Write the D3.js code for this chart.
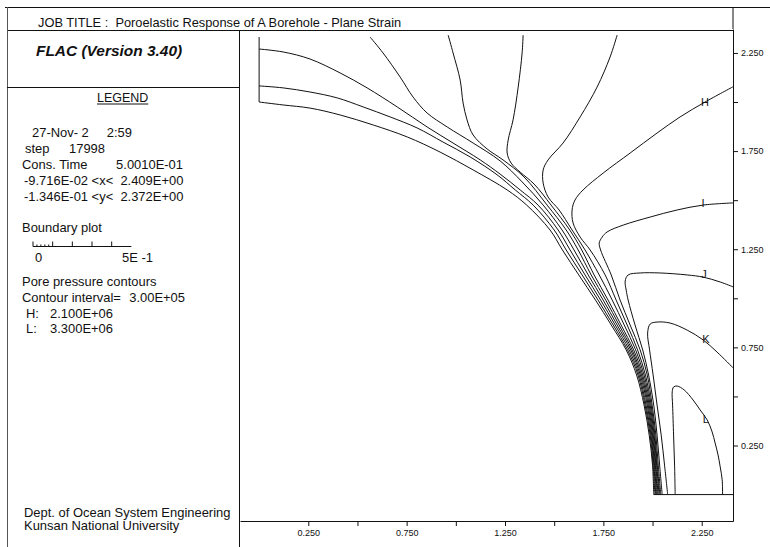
<!DOCTYPE html>
<html>
<head>
<meta charset="utf-8">
<script src="https://cdn.jsdelivr.net/npm/d3@7"></script>
<style>
  html, body { margin: 0; padding: 0; background: #fff; }
  svg { display: block; }
  text { font-family: "Liberation Sans", Arial, Helvetica, sans-serif; fill: #111; white-space: pre; }
</style>
</head>
<body>
<svg id="chart" width="770" height="547"></svg>
<script>
// ---------------- plot window and axis ticks ----------------
const xWindow = [-0.09716, 2.409];
const yWindow = [-0.1346, 2.372];
const xTickValues = [0.25, 0.5, 0.75, 1.0, 1.25, 1.5, 1.75, 2.0, 2.25];
const xTickLabels = ["0.250", "", "0.750", "", "1.250", "", "1.750", "", "2.250"];
const yTickValues = [0.25, 0.5, 0.75, 1.0, 1.25, 1.5, 1.75, 2.0, 2.25];
const yTickLabels = ["0.250", "", "0.750", "", "1.250", "", "1.750", "", "2.250"];

// ---------------- header / legend text ----------------
const jobTitle = "JOB TITLE :  Poroelastic Response of A Borehole - Plane Strain";
const codeName = "FLAC (Version 3.40)";
const legendHeading = "LEGEND";
const runInfo = [["27-Nov- 2", "2:59"], ["step", "17998"], ["Cons. Time", "5.0010E-01"]];
const windowInfo = ["-9.716E-02 <x<  2.409E+00", "-1.346E-01 <y<  2.372E+00"];
const boundaryTitle = "Boundary plot";
const scaleBarLength = 0.5;
const scaleBarMajor = [0, 0.1, 0.2, 0.3, 0.4];
const scaleBarMinor = [0.02, 0.04, 0.06, 0.08];
const scaleBarLabels = ["0", "5E -1"];
const contourTitle = "Pore pressure contours";
const contourInterval = ["Contour interval=", "3.00E+05"];
const contourRange = [["H:", "2.100E+06"], ["L:", "3.300E+06"]];
const affiliation = ["Dept. of Ocean System Engineering", "Kunsan National University"];

// ---------------- model boundary (x, y in metres) ----------------
const holeBoundary = [[0,2.0],[0.122,1.985],[0.259,1.969],[0.412,1.934],[0.580,1.883],[0.753,1.822],[0.920,1.745],[1.088,1.654],[1.261,1.552],[1.360,1.475],[1.479,1.348],[1.542,1.246],[1.625,1.119],[1.710,0.991],[1.790,0.864],[1.866,0.737],[1.919,0.609],[1.957,0.456],[1.983,0.303],[2.000,0.150],[2.006,0]];
const leftEdge = [[0,2.0],[0,2.331]];
const bottomEdge = [[2.006,0],[2.409,0]];

// ---------------- pore pressure contours ----------------
const contourB = [[0,2.082],[0.122,2.072],[0.259,2.051],[0.397,2.021],[0.529,1.975],[0.666,1.924],[0.803,1.868],[0.935,1.796],[1.073,1.720],[1.210,1.629],[1.302,1.552],[1.393,1.475],[1.500,1.348],[1.561,1.246],[1.642,1.119],[1.723,0.991],[1.800,0.864],[1.873,0.737],[1.926,0.609],[1.962,0.456],[1.988,0.303],[2.003,0.150],[2.012,0]];
const contourC = [[0,2.270],[0.122,2.255],[0.259,2.219],[0.412,2.148],[0.549,2.072],[0.702,1.975],[0.854,1.873],[0.986,1.791],[1.124,1.705],[1.225,1.633],[1.327,1.552],[1.418,1.475],[1.520,1.348],[1.581,1.246],[1.657,1.119],[1.736,0.991],[1.810,0.864],[1.881,0.737],[1.932,0.609],[1.967,0.456],[1.992,0.303],[2.007,0.150],[2.016,0]];
const contourD = [[0.564,2.331],[0.630,2.250],[0.717,2.127],[0.783,2.025],[0.854,1.944],[0.956,1.873],[1.088,1.791],[1.225,1.700],[1.337,1.593],[1.444,1.475],[1.540,1.348],[1.601,1.246],[1.673,1.119],[1.749,0.991],[1.820,0.864],[1.889,0.737],[1.938,0.609],[1.973,0.456],[1.996,0.303],[2.010,0.150],[2.020,0]];
const contourE = [[0.961,2.341],[0.986,2.250],[1.022,2.112],[1.037,1.995],[1.057,1.909],[1.088,1.832],[1.159,1.761],[1.240,1.705],[1.347,1.618],[1.464,1.475],[1.561,1.348],[1.622,1.246],[1.688,1.119],[1.762,0.991],[1.830,0.864],[1.896,0.737],[1.944,0.609],[1.978,0.456],[2.000,0.303],[2.014,0.150],[2.024,0]];
const contourF = [[1.342,2.341],[1.337,2.250],[1.317,2.076],[1.291,1.909],[1.266,1.806],[1.261,1.740],[1.281,1.689],[1.327,1.643],[1.398,1.582],[1.484,1.475],[1.579,1.348],[1.640,1.246],[1.703,1.119],[1.774,0.991],[1.840,0.864],[1.904,0.737],[1.950,0.609],[1.983,0.456],[2.004,0.303],[2.017,0.150],[2.028,0]];
const contourG = [[1.820,2.341],[1.784,2.229],[1.718,2.076],[1.632,1.924],[1.545,1.791],[1.469,1.705],[1.444,1.654],[1.444,1.587],[1.469,1.516],[1.525,1.450],[1.591,1.348],[1.657,1.246],[1.729,1.119],[1.795,0.991],[1.856,0.864],[1.914,0.737],[1.957,0.609],[1.988,0.456],[2.008,0.303],[2.021,0.150],[2.033,0]];
const contourH = [[2.410,2.078],[2.267,2.000],[2.140,1.924],[2.023,1.842],[1.886,1.740],[1.749,1.638],[1.647,1.552],[1.606,1.501],[1.591,1.450],[1.596,1.384],[1.632,1.312],[1.683,1.246],[1.759,1.119],[1.815,0.991],[1.871,0.864],[1.924,0.737],[1.964,0.609],[1.993,0.456],[2.012,0.303],[2.024,0.150],[2.037,0]];
const contourI = [[2.410,1.486],[2.257,1.475],[2.125,1.450],[1.988,1.414],[1.851,1.373],[1.769,1.338],[1.744,1.312],[1.729,1.282],[1.736,1.246],[1.790,1.119],[1.835,0.991],[1.886,0.864],[1.937,0.737],[1.973,0.609],[1.998,0.456],[2.017,0.303],[2.029,0.150],[2.042,0]];
const contourJ = [[2.410,1.058],[2.344,1.083],[2.257,1.108],[2.176,1.119],[2.039,1.129],[1.937,1.129],[1.876,1.119],[1.861,1.088],[1.866,1.042],[1.876,0.991],[1.911,0.864],[1.950,0.737],[1.980,0.609],[2.006,0.456],[2.023,0.303],[2.036,0.150],[2.049,0]];
const contourK = [[2.410,0.645],[2.328,0.726],[2.257,0.788],[2.176,0.838],[2.089,0.874],[2.023,0.879],[1.988,0.869],[1.975,0.823],[1.985,0.737],[2.003,0.609],[2.023,0.456],[2.044,0.303],[2.061,0.150],[2.077,0]];
const contourL = [[2.115,0],[2.112,0.150],[2.107,0.303],[2.102,0.456],[2.100,0.523],[2.107,0.548],[2.125,0.553],[2.161,0.533],[2.206,0.482],[2.242,0.431],[2.278,0.380],[2.303,0.319],[2.318,0.263],[2.333,0.202],[2.344,0.141],[2.354,0.075],[2.356,0]];
const contourLabels = [
  { name: "H", x: 2.267, y: 2.000 },
  { name: "I", x: 2.257, y: 1.487 },
  { name: "J", x: 2.262, y: 1.122 },
  { name: "K", x: 2.271, y: 0.793 },
  { name: "L", x: 2.271, y: 0.384 }
];

// ---------------- drawing ----------------
const svg = d3.select("#chart");
const ink = "#111";

svg.append("rect").attr("width", 770).attr("height", 547).attr("fill", "#fff");

const x = d3.scaleLinear().domain(xWindow).range([240, 733]);
const y = d3.scaleLinear().domain(yWindow).range([521, 29]);

// Page frame: title bar, side panel
const frame = svg.append("g").attr("stroke", ink).attr("stroke-width", 1).attr("fill", "none");
frame.append("line").attr("x1", 5).attr("x2", 770).attr("y1", 7.5).attr("y2", 7.5);
frame.append("line").attr("x1", 7).attr("x2", 733).attr("y1", 30.5).attr("y2", 30.5);
frame.append("line").attr("x1", 7.5).attr("x2", 7.5).attr("y1", 7).attr("y2", 547).attr("stroke", "#555");
frame.append("line").attr("x1", 239.5).attr("x2", 239.5).attr("y1", 30).attr("y2", 547);
frame.append("line").attr("x1", 7).attr("x2", 240).attr("y1", 87.5).attr("y2", 87.5);

// Text helper: slightly widened glyphs like the plotter font
function putText(str, px, py, opts = {}) {
  const sx = opts.sx ?? 1.08;
  return svg.append("text")
    .attr("transform", `translate(${px},${py}) scale(${sx},1)`)
    .attr("text-anchor", opts.anchor || "start")
    .attr("font-size", opts.size || 12)
    .attr("font-weight", opts.weight || "normal")
    .attr("font-style", opts.style || "normal")
    .text(str);
}

putText(jobTitle, 38, 27, { size: 12, sx: 1.07 });
putText(codeName, 36, 56, { size: 15, weight: "bold", style: "italic", sx: 1.03 });

const head = putText(legendHeading, 97, 101.5, { size: 12, sx: 1.04 });
const hw = head.node().getComputedTextLength() * 1.04;
svg.append("line").attr("x1", 97).attr("x2", 97 + hw).attr("y1", 104).attr("y2", 104)
  .attr("stroke", ink).attr("stroke-width", 1);

// Run information
const runLeft = [32, 25, 22];
const runRight = [132, 105, 183];
const runBase = [137, 153, 169];
runInfo.forEach((r, i) => {
  putText(r[0], runLeft[i], runBase[i]);
  putText(r[1], runRight[i], runBase[i], { anchor: "end" });
});
windowInfo.forEach((s, i) => putText(s, 24, 185 + i * 15.5));

// Boundary plot scale bar
putText(boundaryTitle, 22, 232);
const barLen = x(scaleBarLength) - x(0);
const bar = svg.append("g").attr("transform", "translate(33,246.5)")
  .attr("stroke", ink).attr("stroke-width", 1);
bar.append("line").attr("x1", 0).attr("x2", barLen).attr("y1", 0).attr("y2", 0);
scaleBarMajor.forEach(v => {
  const p = x(v) - x(0);
  bar.append("line").attr("x1", p).attr("x2", p).attr("y1", 0).attr("y2", -5);
});
scaleBarMinor.forEach(v => {
  const p = x(v) - x(0);
  bar.append("line").attr("x1", p).attr("x2", p).attr("y1", 0).attr("y2", -2);
});
putText(scaleBarLabels[0], 35, 262);
putText(scaleBarLabels[1], 122, 262);

// Contour legend
putText(contourTitle, 22, 286);
putText(contourInterval[0], 22, 302);
putText(contourInterval[1], 185, 302, { anchor: "end" });
contourRange.forEach((r, i) => {
  putText(r[0], 26, 317.5 + i * 15.5);
  putText(r[1], 113, 317.5 + i * 15.5, { anchor: "end" });
});

putText(affiliation[0], 24, 517);
putText(affiliation[1], 24, 530);

// Axes: bottom and right
const xAxis = d3.axisBottom(x).tickValues(xTickValues)
  .tickFormat((d, i) => xTickLabels[i]).tickSize(5).tickSizeOuter(0).tickPadding(4);
const gx = svg.append("g").attr("transform", `translate(0,${y(yWindow[0])})`).call(xAxis);
const yAxis = d3.axisRight(y).tickValues(yTickValues)
  .tickFormat((d, i) => yTickLabels[i]).tickSize(5).tickSizeOuter(0).tickPadding(3);
const gy = svg.append("g").attr("transform", `translate(${x(xWindow[1])},0)`).call(yAxis);
[gx, gy].forEach(g => {
  g.selectAll("path.domain").attr("stroke", ink);
  g.selectAll(".tick line").attr("stroke", ink);
  g.selectAll(".tick text").attr("font-size", 9).attr("fill", ink)
    .attr("font-family", "\"Liberation Sans\", Arial, sans-serif");
});
svg.append("line").attr("x1", x(xWindow[1])).attr("x2", x(xWindow[1]))
  .attr("y1", 7).attr("y2", y(yWindow[1])).attr("stroke", ink);

// Model boundary and contours
const plot = svg.append("g");
const straight = d3.line().x(d => x(d[0])).y(d => y(d[1]));
const smooth = d3.line().x(d => x(d[0])).y(d => y(d[1])).curve(d3.curveCatmullRom.alpha(0.5));

[leftEdge, bottomEdge].forEach(seg => {
  plot.append("path").attr("d", straight(seg)).attr("fill", "none")
    .attr("stroke", ink).attr("stroke-width", 1);
});
plot.append("path").attr("d", smooth(holeBoundary)).attr("fill", "none")
  .attr("stroke", ink).attr("stroke-width", 1);

const contours = [contourB, contourC, contourD, contourE, contourF, contourG,
                  contourH, contourI, contourJ, contourK, contourL];
plot.selectAll("path.contour").data(contours).join("path")
  .attr("class", "contour")
  .attr("d", d => smooth(d))
  .attr("fill", "none")
  .attr("stroke", ink)
  .attr("stroke-width", 1);

plot.selectAll("text.clabel").data(contourLabels).join("text")
  .attr("class", "clabel")
  .attr("x", d => x(d.x))
  .attr("y", d => y(d.y))
  .attr("dy", "0.35em")
  .attr("text-anchor", "middle")
  .attr("font-size", 11)
  .text(d => d.name);
</script>
</body>
</html>
